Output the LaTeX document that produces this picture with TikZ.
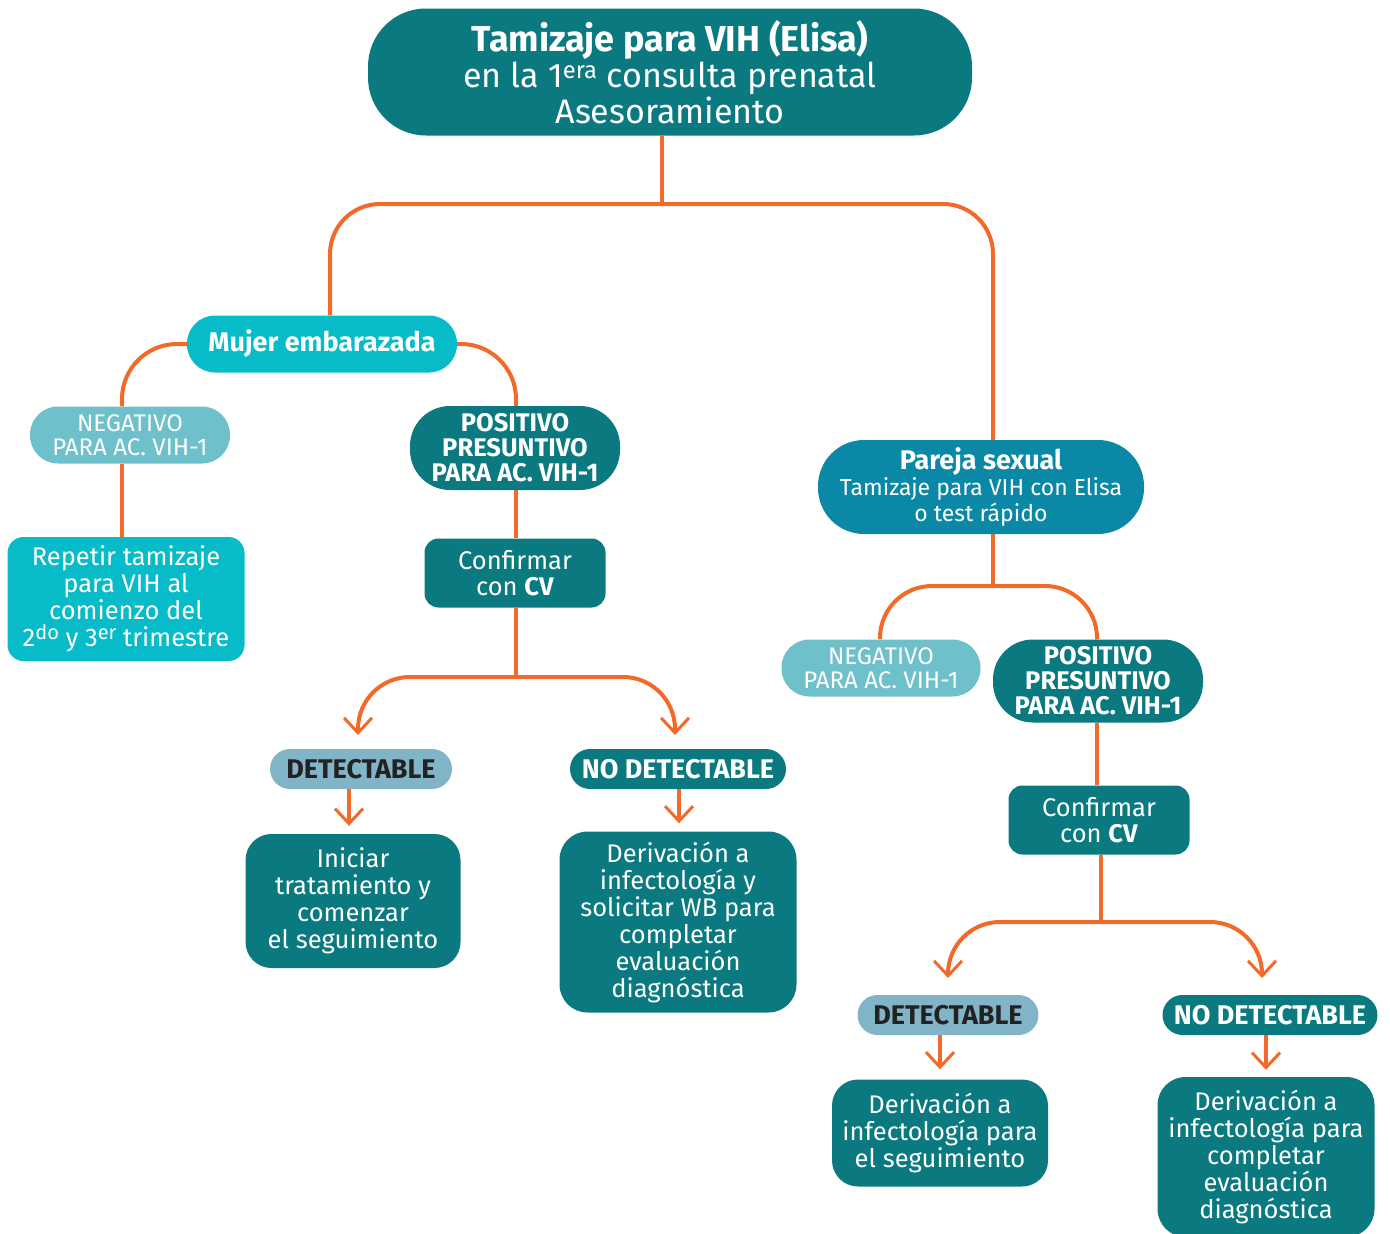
\documentclass[tikz,border=0pt]{standalone}
\usepackage{fontspec}
\setmainfont{Fira Sans}
\usetikzlibrary{arrows.meta,backgrounds}
\definecolor{cTeal}{HTML}{0A7A80}
\definecolor{cCyan}{HTML}{07BBC9}
\definecolor{cLight}{HTML}{6EC1CA}
\definecolor{cBlue}{HTML}{0A88A5}
\definecolor{cGrey}{HTML}{82B4C8}
\definecolor{cOrange}{HTML}{F26A2A}
\definecolor{cDark}{HTML}{222222}
\newcommand{\bigsup}[1]{\raisebox{0.3em}{\fontsize{20}{20}\selectfont #1}}
\tikzset{
  box/.style={align=center, text=white, inner sep=0pt, font=\fontsize{25.5}{27}\selectfont},
  pill/.style={box, rounded corners=#1},
  conn/.style={draw=cOrange, line width=4pt},
  arr/.style={conn, -{Straight Barb[length=15pt,width=28pt,line width=3pt]}},
  negtxt/.style={font=\fontsize{24}{24}\selectfont},
  postxt/.style={font=\fontsize{25.5}{25}\selectfont\bfseries},
  dettxt/.style={font=\fontsize{27}{27}\selectfont\bfseries},
  conftxt/.style={font=\fontsize{25.5}{26}\selectfont},
}
\begin{document}
\begin{tikzpicture}[x=1pt,y=-1pt]
\useasboundingbox (0,0) rectangle (1390,1234);
% nodes
\node[pill=58, fill=cTeal, minimum width=604, minimum height=127, font=\fontsize{34}{36}\selectfont] (top) at (670,72)
  {{\fontsize{36}{36}\selectfont\bfseries Tamizaje para VIH (Elisa)}\\en la 1\textsuperscript{era} consulta prenatal\\Asesoramiento};
\node[pill=28, fill=cCyan, minimum width=270, minimum height=57, font=\fontsize{27}{27}\selectfont\bfseries] (mujer) at (322,344) {Mujer embarazada};
\node[pill=28, fill=cLight, minimum width=200, minimum height=57, negtxt] (neg1) at (130,435) {NEGATIVO\\PARA AC. VIH-1};
\node[pill=16, fill=cCyan, minimum width=237, minimum height=124] (rep) at (126,599)
  {Repetir tamizaje\\para VIH al\\comienzo del\\2\bigsup{do} y 3\bigsup{er} trimestre};
\node[pill=40, fill=cTeal, minimum width=210, minimum height=84, postxt] (pos1) at (515,448) {POSITIVO\\PRESUNTIVO\\PARA AC. VIH-1};
\node[pill=14, fill=cTeal, minimum width=181, minimum height=69, conftxt] (conf1) at (515,573) {Confirmar\\con \textbf{CV}};
\node[pill=20, fill=cGrey, text=cDark, minimum width=182, minimum height=40, dettxt] (det1) at (361,769) {DETECTABLE};
\node[pill=20, fill=cTeal, minimum width=216, minimum height=40, dettxt] (nod1) at (678,769) {NO DETECTABLE};
\node[pill=26, fill=cTeal, minimum width=215, minimum height=134] (ini) at (353,901) {Iniciar\\tratamiento y\\comenzar\\el seguimiento};
\node[pill=28, fill=cTeal, minimum width=237, minimum height=181] (der1) at (678,922) {Derivación a\\infectología y\\solicitar WB para\\completar\\evaluación\\diagnóstica};
\node[pill=46, fill=cBlue, minimum width=326, minimum height=94, font=\fontsize{23}{26}\selectfont] (pareja) at (981,487) {{\fontsize{27}{28}\selectfont\bfseries Pareja sexual}\\Tamizaje para VIH con Elisa\\o test rápido};
\node[pill=28, fill=cLight, minimum width=199, minimum height=57, negtxt] (neg2) at (881,668) {NEGATIVO\\PARA AC. VIH-1};
\node[pill=40, fill=cTeal, minimum width=210, minimum height=83, postxt] (pos2) at (1098,681) {POSITIVO\\PRESUNTIVO\\PARA AC. VIH-1};
\node[pill=14, fill=cTeal, minimum width=181, minimum height=69, conftxt] (conf2) at (1099,820) {Confirmar\\con \textbf{CV}};
\node[pill=20, fill=cGrey, text=cDark, minimum width=181, minimum height=40, dettxt] (det2) at (948,1015) {DETECTABLE};
\node[pill=20, fill=cTeal, minimum width=215, minimum height=40, dettxt] (nod2) at (1270,1015) {NO DETECTABLE};
\node[pill=26, fill=cTeal, minimum width=216, minimum height=107] (der2) at (940,1133) {Derivación a\\infectología para\\el seguimiento};
\node[pill=28, fill=cTeal, minimum width=217, minimum height=160] (der3) at (1266,1157) {Derivación a\\infectología para\\completar\\evaluación\\diagnóstica};
% helper coordinates
\coordinate (b0) at (662,204);
\coordinate (xM) at (330,0);
\coordinate (xP) at (993,0);
\coordinate (xN1) at (122,0);
\coordinate (xQ1) at (516,0);
\coordinate (b1) at (516,677);
\coordinate (a1L) at (358,735);
\coordinate (a1R) at (675,735);
\coordinate (xD1) at (349,0);
\coordinate (xE1) at (679,0);
\coordinate (b2) at (993,586);
\coordinate (xN2) at (880,0);
\coordinate (xQ2) at (1097,0);
\coordinate (b3) at (1101,922);
\coordinate (a2L) at (948,978);
\coordinate (a2R) at (1262,978);
\coordinate (xD2) at (940,0);
\coordinate (xE2) at (1266,0);
\begin{scope}[on background layer]
\draw[conn] (top.south -| b0) -- (b0);
\draw[conn, rounded corners=50] (b0) -| (mujer.north -| xM);
\draw[conn, rounded corners=50] (b0) -| (pareja.north -| xP);
\draw[conn, rounded corners=55] (mujer.west) -| (neg1.north -| xN1);
\draw[conn, rounded corners=55] (mujer.east) -| (pos1.north -| xQ1);
\draw[conn] (neg1.south -| xN1) -- (rep.north -| xN1);
\draw[conn] (pos1.south -| xQ1) -- (conf1.north -| xQ1);
\draw[conn] (conf1.south -| b1) -- (b1);
\draw[arr, rounded corners=52] (b1) -| (a1L);
\draw[arr, rounded corners=52] (b1) -| (a1R);
\draw[arr, shorten >=8pt] (det1.south -| xD1) -- (ini.north -| xD1);
\draw[arr, shorten >=8pt] (nod1.south -| xE1) -- (der1.north -| xE1);
\draw[conn] (pareja.south -| b2) -- (b2);
\draw[conn, rounded corners=52] (b2) -| (neg2.north -| xN2);
\draw[conn, rounded corners=52] (b2) -| (pos2.north -| xQ2);
\draw[conn] (pos2.south -| xQ2) -- (conf2.north -| xQ2);
\draw[conn] (conf2.south -| b3) -- (b3);
\draw[arr, rounded corners=52] (b3) -| (a2L);
\draw[arr, rounded corners=52] (b3) -| (a2R);
\draw[arr, shorten >=10pt] (det2.south -| xD2) -- (der2.north -| xD2);
\draw[arr, shorten >=7pt] (nod2.south -| xE2) -- (der3.north -| xE2);
\end{scope}
\end{tikzpicture}
\end{document}
